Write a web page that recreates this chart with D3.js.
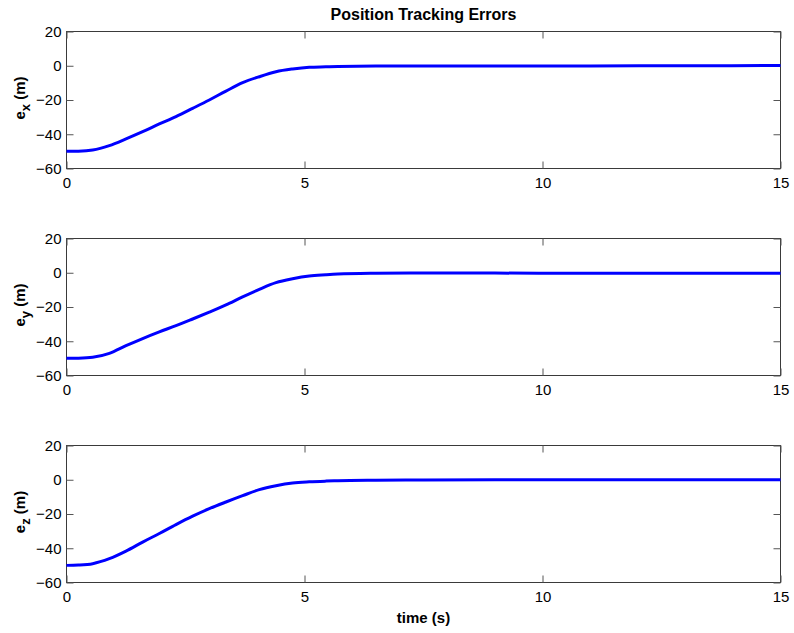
<!DOCTYPE html>
<html>
<head>
  <meta charset="UTF-8" />
  <script src="https://d3js.org/d3.v7.min.js"></script>
  <style>
    body { margin: 0; background: #fff; }
    text { font-family: "Liberation Sans", Arial, sans-serif; }
  </style>
</head>
<body>
  <script>
    // time samples (s) and the three error series (m)
    var time = [0, 0.25, 0.55, 0.9, 1.25, 1.6, 1.95, 2.3, 2.65, 3, 3.35, 3.7, 4.05, 4.4, 4.75, 5.1, 5.45, 5.7, 6.5, 7.5, 9, 11, 13, 15];
    var ex = [-50, -49.9, -49.2, -46.6, -42.7, -38.5, -34, -29.7, -24.9, -20, -14.8, -9.9, -6.4, -3.5, -1.9, -0.9, -0.6, -0.4, -0.2, -0.1, -0.1, -0.1, 0, 0.1];
    var ey = [-50, -49.9, -49.4, -47.1, -42.6, -38.4, -34.5, -30.9, -27, -23, -18.8, -14.1, -9.7, -5.8, -3.5, -1.9, -1.2, -0.8, -0.3, -0.1, -0.2, -0.3, -0.3, -0.3];
    var ez = [-50, -49.8, -49, -46.1, -41.7, -36.4, -31.4, -26.2, -21.3, -16.9, -13, -9.3, -5.8, -3.5, -1.9, -1.2, -0.8, -0.6, -0.3, -0.1, 0, 0, 0, 0];

    var xTicks = [0, 5, 10, 15];
    var yTicks = [-60, -40, -20, 0, 20];
    var panels = [
      { values: ex, sub: "x" },
      { values: ey, sub: "y" },
      { values: ez, sub: "z" }
    ];

    var width = 794, height = 633;
    var left = 66.5, right = 780.5;
    var tops = [31.5, 238.5, 445.5];
    var ph = 137;

    var svg = d3.select("body").append("svg")
      .attr("width", width)
      .attr("height", height);

    var x = d3.scaleLinear().domain([0, 15]).range([left, right]);

    // title
    svg.append("text")
      .attr("x", (left + right) / 2)
      .attr("y", 20)
      .attr("text-anchor", "middle")
      .style("font-size", "16px")
      .style("font-weight", "bold")
      .text("Position Tracking Errors");

    panels.forEach(function (p, i) {
      var top = tops[i];
      var y = d3.scaleLinear().domain([-60, 20]).range([top + ph, top]);

      var g = svg.append("g");

      // box
      g.append("rect")
        .attr("x", left)
        .attr("y", top)
        .attr("width", right - left)
        .attr("height", ph)
        .attr("fill", "none")
        .attr("stroke", "#3a3a3a")
        .attr("stroke-width", 1);

      // axes, ticks pointing inward
      var bottomAxis = g.append("g")
        .attr("transform", "translate(0," + (top + ph) + ")")
        .call(d3.axisBottom(x).tickValues(xTicks).tickSize(-7).tickPadding(9).tickFormat(d3.format("d")));
      var topAxis = g.append("g")
        .attr("transform", "translate(0," + top + ")")
        .call(d3.axisTop(x).tickValues(xTicks).tickSize(-7).tickFormat(""));
      var leftAxis = g.append("g")
        .attr("transform", "translate(" + left + ",0)")
        .call(d3.axisLeft(y).tickValues(yTicks).tickSize(-7).tickPadding(5).tickFormat(d3.format("d")));
      var rightAxis = g.append("g")
        .attr("transform", "translate(" + right + ",0)")
        .call(d3.axisRight(y).tickValues(yTicks).tickSize(-7).tickFormat(""));

      [bottomAxis, topAxis, leftAxis, rightAxis].forEach(function (a) {
        a.select(".domain").remove();
        a.selectAll("line").attr("stroke", "#555");
        a.selectAll("text")
          .attr("fill", "#000")
          .style("font-size", "15px")
          .style("font-family", "'Liberation Sans', Arial, sans-serif");
      });

      // y label with subscript
      var cy = top + ph / 2 - 2;
      var lbl = g.append("text")
        .attr("transform", "translate(25," + cy + ") rotate(-90)")
        .attr("text-anchor", "middle")
        .style("font-size", "15px")
        .style("font-weight", "bold");
      lbl.append("tspan").text("e");
      lbl.append("tspan").attr("dy", 5).style("font-size", "13px").text(p.sub);
      lbl.append("tspan").attr("dy", -5).text(" (m)");

      // series line
      var line = d3.line()
        .x(function (d, j) { return x(time[j]); })
        .y(function (d) { return y(d); })
        .curve(d3.curveMonotoneX);

      g.append("path")
        .datum(p.values)
        .attr("d", line)
        .attr("fill", "none")
        .attr("stroke", "#0000ff")
        .attr("stroke-width", 3);
    });

    // x label
    svg.append("text")
      .attr("x", (left + right) / 2)
      .attr("y", 623)
      .attr("text-anchor", "middle")
      .style("font-size", "15px")
      .style("font-weight", "bold")
      .text("time (s)");
  </script>
</body>
</html>
